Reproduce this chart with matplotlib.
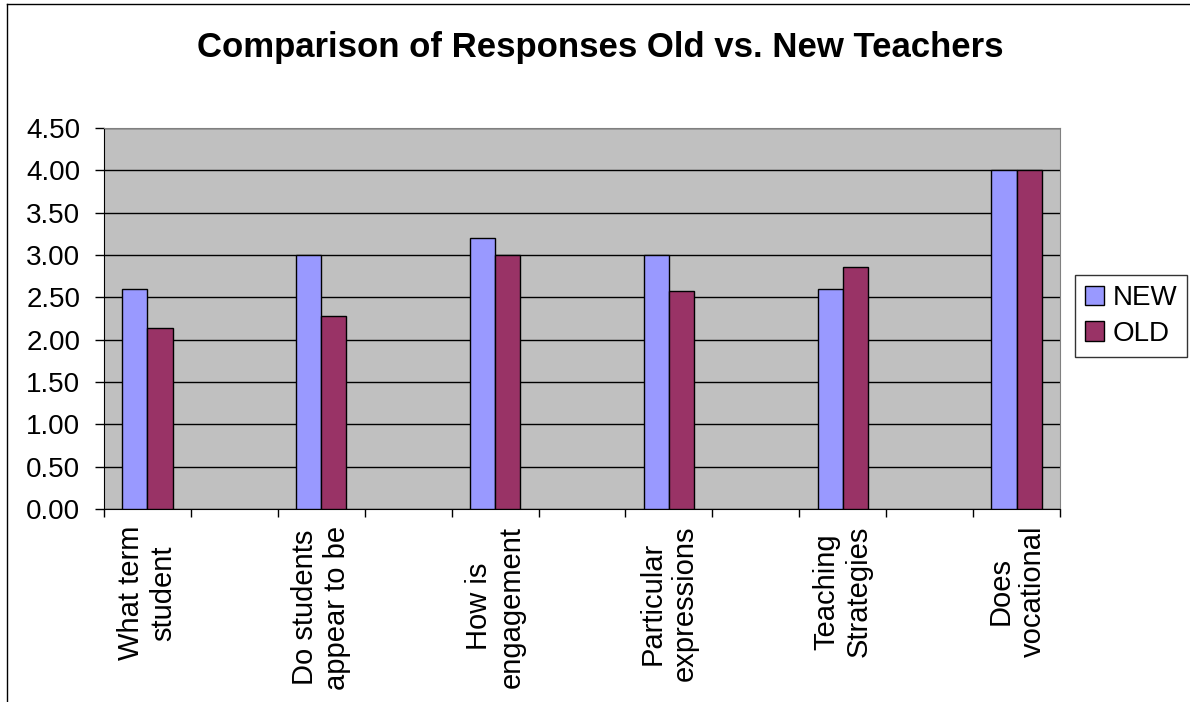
import numpy as np
import matplotlib
matplotlib.use("Agg")
import matplotlib.pyplot as plt
from matplotlib.lines import Line2D

plt.rcParams["font.family"] = ["Liberation Sans", "DejaVu Sans"]

# chart data (blank slots are empty rows in the source sheet)
categories = ["What term\nstudent", "", "Do students\nappear to be", "",
              "How is\nengagement", "", "Particular\nexpressions", "",
              "Teaching\nStrategies", "", "Does\nvocational"]
new_vals = [2.60, np.nan, 3.00, np.nan, 3.20, np.nan, 3.00, np.nan, 2.60, np.nan, 4.00]
old_vals = [2.14, np.nan, 2.28, np.nan, 3.00, np.nan, 2.57, np.nan, 2.86, np.nan, 4.00]
y_ticks = [0.0, 0.5, 1.0, 1.5, 2.0, 2.5, 3.0, 3.5, 4.0, 4.5]

fig = plt.figure(figsize=(11.9, 7.02), dpi=100)
ax = fig.add_axes([104 / 1190, 1 - 509 / 702, (1060 - 104) / 1190, (509 - 128) / 702])
ax.set_facecolor("#C0C0C0")

x = np.arange(len(categories))
w = 0.29
ax.bar(x - w / 2, new_vals, w, color="#9999FF", edgecolor="black", linewidth=1, label="NEW", zorder=3)
ax.bar(x + w / 2, old_vals, w, color="#993366", edgecolor="black", linewidth=1, label="OLD", zorder=3)

ax.set_ylim(0, 4.5)
ax.set_xlim(-0.5, len(categories) - 0.5)
ax.set_yticks(y_ticks)
ax.set_yticklabels([f"{v:.2f}" for v in y_ticks], fontsize=20)
ax.yaxis.grid(True, color="black", linewidth=1, zorder=0)
ax.set_axisbelow(True)

ax.set_xticks(x)
ax.set_xticklabels(categories, rotation=90, fontsize=21, va="top", ha="center",
                   multialignment="center")
ax.tick_params(axis="x", which="major", length=0, pad=12)
ax.set_xticks(np.arange(len(categories) + 1) - 0.5, minor=True)
ax.tick_params(axis="x", which="minor", length=6, width=1, direction="out")
ax.tick_params(axis="y", length=6.5, width=1, direction="out", pad=10.5)

for s in ["top", "right"]:
    ax.spines[s].set_color("#808080")
for s in ["left", "bottom"]:
    ax.spines[s].set_color("black")

leg = fig.legend(loc="center left", bbox_to_anchor=(1075 / 1190, 1 - 316 / 702),
                 fontsize=20, frameon=True, fancybox=False, edgecolor="black",
                 handlelength=0.7, handleheight=0.7, handletextpad=0.3,
                 borderpad=0.35, labelspacing=0.35, borderaxespad=0)
leg.get_frame().set_linewidth(1)

fig.text(600 / 1190, 1 - 47 / 702, "Comparison of Responses Old vs. New Teachers",
         fontsize=25, fontweight="bold", ha="center", va="center")

# outer chart frame (left and top edges visible)
fig.add_artist(Line2D([7 / 1190, 7 / 1190], [0, 1 - 4 / 702], color="black", linewidth=1))
fig.add_artist(Line2D([7 / 1190, 1], [1 - 4 / 702, 1 - 4 / 702], color="black", linewidth=1))

fig.savefig("out.png", dpi=100)
